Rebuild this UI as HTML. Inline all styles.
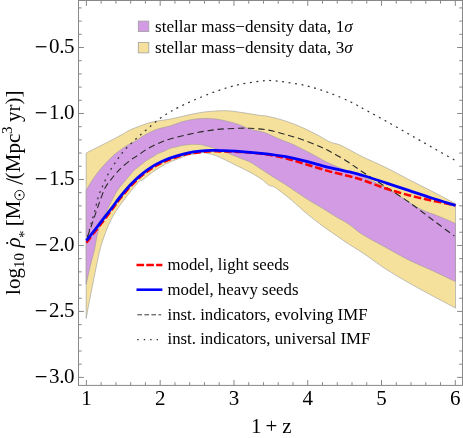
<!DOCTYPE html>
<html><head><meta charset="utf-8"><title>plot</title>
<style>
html,body{margin:0;padding:0;background:#fff;}
body{width:463px;height:438px;overflow:hidden;font-family:"Liberation Serif",serif;}
svg{display:block;}
#w{will-change:transform;width:463px;height:438px;}
</style></head><body>
<div id="w">
<svg width="463" height="438" viewBox="0 0 463 438">
<rect width="463" height="438" fill="#fff"/>
<defs><clipPath id="cp"><rect x="78.5" y="0.5" width="384.0" height="384.9"/></clipPath></defs>
<g clip-path="url(#cp)">
<path d="M86.20 153.00 C88.25 151.97 94.38 148.88 98.50 146.80 C102.62 144.72 106.70 142.70 110.90 140.50 C115.10 138.30 120.62 135.30 123.70 133.60 C126.78 131.90 126.52 131.63 129.40 130.30 C132.28 128.97 137.02 127.02 141.00 125.60 C144.98 124.18 148.47 122.88 153.30 121.80 C158.13 120.72 165.32 119.97 170.00 119.10 C174.68 118.23 177.60 117.45 181.40 116.60 C185.20 115.75 189.00 114.77 192.80 114.00 C196.60 113.23 200.38 112.50 204.20 112.00 C208.02 111.50 211.90 111.22 215.70 111.00 C219.50 110.78 223.20 110.53 227.00 110.70 C230.80 110.87 234.67 111.48 238.50 112.00 C242.33 112.52 246.20 113.20 250.00 113.80 C253.80 114.40 258.42 115.20 261.30 115.60 C264.18 116.00 263.43 115.35 267.30 116.20 C271.17 117.05 278.75 118.85 284.50 120.70 C290.25 122.55 296.03 124.77 301.80 127.30 C307.57 129.83 314.40 133.45 319.10 135.90 C323.80 138.35 326.52 140.48 330.00 142.00 C333.48 143.52 336.45 143.53 340.00 145.00 C343.55 146.47 347.47 148.80 351.30 150.80 C355.13 152.80 357.25 154.22 363.00 157.00 C368.75 159.78 378.18 163.75 385.80 167.50 C393.42 171.25 401.08 175.57 408.70 179.50 C416.32 183.43 423.70 187.07 431.50 191.10 C439.30 195.13 451.50 201.60 455.50 203.70 L455.50 308.00 C451.50 305.88 439.30 299.50 431.50 295.30 C423.70 291.10 416.32 287.17 408.70 282.80 C401.08 278.43 393.42 274.05 385.80 269.10 C378.18 264.15 369.22 257.28 363.00 253.10 C356.78 248.92 352.83 246.85 348.50 244.00 C344.17 241.15 340.80 238.63 337.00 236.00 C333.20 233.37 329.50 230.93 325.70 228.20 C321.90 225.47 318.02 222.60 314.20 219.60 C310.38 216.60 306.60 213.47 302.80 210.20 C299.00 206.93 295.20 203.20 291.40 200.00 C287.60 196.80 282.98 193.23 280.00 191.00 C277.02 188.77 275.08 187.45 273.50 186.60 C271.92 185.75 271.50 186.30 270.50 185.90 C269.50 185.50 269.03 185.35 267.50 184.20 C265.97 183.05 264.22 181.00 261.30 179.00 C258.38 177.00 253.80 174.28 250.00 172.20 C246.20 170.12 242.33 168.40 238.50 166.50 C234.67 164.60 230.80 162.62 227.00 160.80 C223.20 158.98 219.50 156.93 215.70 155.60 C211.90 154.27 206.82 153.20 204.20 152.80 C201.58 152.40 202.62 152.83 200.00 153.20 C197.38 153.57 192.33 154.00 188.50 155.00 C184.67 156.00 180.80 157.70 177.00 159.20 C173.20 160.70 169.50 162.03 165.70 164.00 C161.90 165.97 158.02 168.37 154.20 171.00 C150.38 173.63 145.23 178.13 142.80 179.80 C140.37 181.47 141.50 179.22 139.60 181.00 C137.70 182.78 134.13 187.17 131.40 190.50 C128.67 193.83 125.70 197.67 123.20 201.00 C120.70 204.33 118.45 207.32 116.40 210.50 C114.35 213.68 112.62 216.67 110.90 220.10 C109.18 223.53 107.47 227.67 106.10 231.10 C104.73 234.53 103.73 237.55 102.70 240.70 C101.67 243.85 100.88 246.12 99.90 250.00 C98.92 253.88 97.88 258.83 96.80 264.00 C95.72 269.17 94.60 275.00 93.40 281.00 C92.20 287.00 90.80 293.77 89.60 300.00 C88.40 306.23 86.77 315.33 86.20 318.40 Z" fill="#F5E19B" stroke="#9a9a9a" stroke-width="0.6" stroke-linejoin="round"/>
<path d="M86.20 190.30 C87.12 188.77 89.65 184.23 91.70 181.10 C93.75 177.97 96.22 174.42 98.50 171.50 C100.78 168.58 103.12 166.10 105.40 163.60 C107.68 161.10 109.92 158.60 112.20 156.50 C114.48 154.40 116.82 152.72 119.10 151.00 C121.38 149.28 123.62 147.63 125.90 146.20 C128.18 144.77 130.78 143.53 132.80 142.40 C134.82 141.27 135.72 140.80 138.00 139.40 C140.28 138.00 143.17 135.75 146.50 134.00 C149.83 132.25 154.08 130.23 158.00 128.90 C161.92 127.57 166.10 127.15 170.00 126.00 C173.90 124.85 177.60 123.10 181.40 122.00 C185.20 120.90 189.00 120.00 192.80 119.40 C196.60 118.80 200.38 118.47 204.20 118.40 C208.02 118.33 211.90 118.53 215.70 119.00 C219.50 119.47 223.20 120.30 227.00 121.20 C230.80 122.10 234.67 123.07 238.50 124.40 C242.33 125.73 246.65 128.08 250.00 129.20 C253.35 130.32 255.72 130.37 258.60 131.10 C261.48 131.83 264.42 132.52 267.30 133.60 C270.18 134.68 273.03 136.35 275.90 137.60 C278.77 138.85 281.62 139.95 284.50 141.10 C287.38 142.25 290.32 143.20 293.20 144.50 C296.08 145.80 298.93 147.45 301.80 148.90 C304.67 150.35 307.52 151.68 310.40 153.20 C313.28 154.72 316.50 156.57 319.10 158.00 C321.70 159.43 323.13 160.40 326.00 161.80 C328.87 163.20 332.08 164.62 336.30 166.40 C340.52 168.18 346.85 170.73 351.30 172.50 C355.75 174.27 359.15 175.42 363.00 177.00 C366.85 178.58 370.60 180.22 374.40 182.00 C378.20 183.78 382.00 185.62 385.80 187.70 C389.60 189.78 393.38 192.12 397.20 194.50 C401.02 196.88 404.90 199.60 408.70 202.00 C412.50 204.40 416.20 206.98 420.00 208.90 C423.80 210.82 427.67 211.98 431.50 213.50 C435.33 215.02 439.00 216.33 443.00 218.00 C447.00 219.67 453.42 222.58 455.50 223.50 L455.50 281.60 C451.50 279.70 439.30 273.80 431.50 270.20 C423.70 266.60 416.32 263.80 408.70 260.00 C401.08 256.20 393.42 251.60 385.80 247.40 C378.18 243.20 369.22 238.70 363.00 234.80 C356.78 230.90 352.83 226.92 348.50 224.00 C344.17 221.08 340.08 219.13 337.00 217.30 C333.92 215.47 332.03 214.27 330.00 213.00 C327.97 211.73 326.97 211.03 324.80 209.70 C322.63 208.37 319.28 206.35 317.00 205.00 C314.72 203.65 313.13 202.83 311.10 201.60 C309.07 200.37 306.98 199.03 304.80 197.60 C302.62 196.17 300.28 194.57 298.00 193.00 C295.72 191.43 293.40 189.73 291.10 188.20 C288.80 186.67 286.48 185.23 284.20 183.80 C281.92 182.37 279.68 181.03 277.40 179.60 C275.12 178.17 272.78 176.67 270.50 175.20 C268.22 173.73 265.98 172.28 263.70 170.80 C261.42 169.32 259.08 167.77 256.80 166.30 C254.52 164.83 253.05 163.48 250.00 162.00 C246.95 160.52 242.33 158.93 238.50 157.40 C234.67 155.87 230.08 154.03 227.00 152.80 C223.92 151.57 221.88 150.68 220.00 150.00 C218.12 149.32 217.15 149.17 215.70 148.70 C214.25 148.23 213.22 147.73 211.30 147.20 C209.38 146.67 206.08 145.93 204.20 145.50 C202.32 145.07 201.90 144.80 200.00 144.60 C198.10 144.40 194.72 144.30 192.80 144.30 C190.88 144.30 190.40 144.38 188.50 144.60 C186.60 144.82 183.32 145.23 181.40 145.60 C179.48 145.97 178.90 146.35 177.00 146.80 C175.10 147.25 171.88 147.68 170.00 148.30 C168.12 148.92 167.70 149.62 165.70 150.50 C163.70 151.38 159.92 152.68 158.00 153.60 C156.08 154.52 156.12 154.85 154.20 156.00 C152.28 157.15 148.40 159.25 146.50 160.50 C144.60 161.75 144.72 161.98 142.80 163.50 C140.88 165.02 136.90 167.93 135.00 169.60 C133.10 171.27 133.28 171.35 131.40 173.50 C129.52 175.65 125.98 179.75 123.70 182.50 C121.42 185.25 119.72 186.92 117.70 190.00 C115.68 193.08 113.65 197.12 111.60 201.00 C109.55 204.88 107.23 209.43 105.40 213.30 C103.57 217.17 101.97 220.55 100.60 224.20 C99.23 227.85 98.23 230.90 97.20 235.20 C96.17 239.50 95.52 245.03 94.40 250.00 C93.28 254.97 91.87 259.28 90.50 265.00 C89.13 270.72 86.92 281.08 86.20 284.30 Z" fill="#D39BE3" stroke="#9a9a9a" stroke-width="0.6" stroke-linejoin="round"/>
<path d="M87.50 237.00 C88.08 234.83 89.73 228.55 91.00 224.00 C92.27 219.45 93.85 214.33 95.10 209.70 C96.35 205.07 97.13 200.40 98.50 196.20 C99.87 192.00 101.58 188.38 103.30 184.50 C105.02 180.62 106.73 176.65 108.80 172.90 C110.87 169.15 113.30 165.55 115.70 162.00 C118.10 158.45 120.35 154.95 123.20 151.60 C126.05 148.25 129.68 144.90 132.80 141.90 C135.92 138.90 138.87 136.28 141.90 133.60 C144.93 130.92 147.95 128.35 151.00 125.80 C154.05 123.25 157.15 120.55 160.20 118.30 C163.25 116.05 166.33 114.08 169.30 112.30 C172.27 110.52 174.08 109.55 178.00 107.60 C181.92 105.65 186.52 103.28 192.80 100.60 C199.08 97.92 208.08 94.15 215.70 91.50 C223.32 88.85 230.90 86.45 238.50 84.70 C246.10 82.95 256.05 81.70 261.30 81.00 C266.55 80.30 266.42 80.38 270.00 80.50 C273.58 80.62 276.85 80.85 282.80 81.70 C288.75 82.55 298.08 83.78 305.70 85.60 C313.32 87.42 320.90 89.83 328.50 92.60 C336.10 95.37 344.98 99.23 351.30 102.20 C357.62 105.17 360.65 107.27 366.40 110.40 C372.15 113.53 378.75 117.07 385.80 121.00 C392.85 124.93 401.08 129.67 408.70 134.00 C416.32 138.33 423.78 142.62 431.50 147.00 C439.22 151.38 451.08 158.08 455.00 160.30" fill="none" stroke="#333" stroke-width="1.25" stroke-dasharray="1.9 4.6"/>
<path d="M87.40 237.00 C88.20 234.73 90.63 227.90 92.20 223.40 C93.77 218.90 95.30 214.32 96.80 210.00 C98.30 205.68 99.77 201.28 101.20 197.50 C102.63 193.72 103.78 190.27 105.40 187.30 C107.02 184.33 109.07 182.10 110.90 179.70 C112.73 177.30 114.35 175.18 116.40 172.90 C118.45 170.62 120.47 168.40 123.20 166.00 C125.93 163.60 130.33 160.28 132.80 158.50 C135.27 156.72 135.72 156.82 138.00 155.30 C140.28 153.78 143.17 151.35 146.50 149.40 C149.83 147.45 154.08 145.33 158.00 143.60 C161.92 141.87 164.20 140.68 170.00 139.00 C175.80 137.32 185.18 135.07 192.80 133.50 C200.42 131.93 208.08 130.47 215.70 129.60 C223.32 128.73 232.78 128.52 238.50 128.30 C244.22 128.08 245.20 128.03 250.00 128.30 C254.80 128.57 261.55 128.92 267.30 129.90 C273.05 130.88 278.75 132.62 284.50 134.20 C290.25 135.78 296.03 137.38 301.80 139.40 C307.57 141.42 314.40 144.28 319.10 146.30 C323.80 148.32 325.38 149.02 330.00 151.50 C334.62 153.98 341.30 157.75 346.80 161.20 C352.30 164.65 356.50 167.90 363.00 172.20 C369.50 176.50 378.18 182.03 385.80 187.00 C393.42 191.97 401.08 196.67 408.70 202.00 C416.32 207.33 423.90 213.33 431.50 219.00 C439.10 224.67 450.50 233.17 454.30 236.00" fill="none" stroke="#2a2a2a" stroke-width="1.1" stroke-dasharray="6.4 3.8"/>
<path d="M86.40 242.70 C88.80 239.62 96.50 229.77 100.80 224.20 C105.10 218.63 109.00 213.53 112.20 209.30 C115.40 205.07 116.80 202.78 120.00 198.80 C123.20 194.82 127.60 189.38 131.40 185.40 C135.20 181.42 139.00 178.00 142.80 174.90 C146.60 171.80 150.38 169.12 154.20 166.80 C158.02 164.48 161.90 162.63 165.70 161.00 C169.50 159.37 173.20 158.18 177.00 157.00 C180.80 155.82 184.67 154.70 188.50 153.90 C192.33 153.10 196.20 152.63 200.00 152.20 C203.80 151.77 207.97 151.43 211.30 151.30 C214.63 151.17 215.47 151.30 220.00 151.40 C224.53 151.50 231.62 151.50 238.50 151.90 C245.38 152.30 253.63 152.78 261.30 153.80 C268.97 154.82 277.10 156.27 284.50 158.00 C291.90 159.73 298.37 162.02 305.70 164.20 C313.03 166.38 320.90 169.00 328.50 171.10 C336.10 173.20 345.17 175.15 351.30 176.80 C357.43 178.45 359.55 179.05 365.30 181.00 C371.05 182.95 378.57 186.13 385.80 188.50 C393.03 190.87 401.08 193.20 408.70 195.20 C416.32 197.20 423.70 198.82 431.50 200.50 C439.30 202.18 451.50 204.50 455.50 205.30" fill="none" stroke="#f00" stroke-width="2.5" stroke-dasharray="7.5 2.8"/>
<path d="M86.40 240.70 C88.80 237.62 96.50 227.75 100.80 222.20 C105.10 216.65 109.00 211.60 112.20 207.40 C115.40 203.20 116.80 200.93 120.00 197.00 C123.20 193.07 127.60 187.73 131.40 183.80 C135.20 179.87 139.00 176.47 142.80 173.40 C146.60 170.33 150.38 167.68 154.20 165.40 C158.02 163.12 161.90 161.30 165.70 159.70 C169.50 158.10 173.20 156.95 177.00 155.80 C180.80 154.65 184.67 153.57 188.50 152.80 C192.33 152.03 196.20 151.60 200.00 151.20 C203.80 150.80 207.97 150.50 211.30 150.40 C214.63 150.30 215.47 150.45 220.00 150.60 C224.53 150.75 231.62 150.85 238.50 151.30 C245.38 151.75 253.63 152.45 261.30 153.30 C268.97 154.15 277.10 155.08 284.50 156.40 C291.90 157.72 298.37 159.37 305.70 161.20 C313.03 163.03 320.90 165.55 328.50 167.40 C336.10 169.25 345.55 170.95 351.30 172.30 C357.05 173.65 357.25 173.75 363.00 175.50 C368.75 177.25 378.18 180.32 385.80 182.80 C393.42 185.28 401.08 187.87 408.70 190.40 C416.32 192.93 423.70 195.52 431.50 198.00 C439.30 200.48 451.50 204.08 455.50 205.30" fill="none" stroke="#00f" stroke-width="2.8"/>
</g>
<g stroke="#888888" stroke-width="1" fill="none" shape-rendering="auto">
<rect x="78.5" y="0.5" width="384.0" height="384.9"/>
<path d="M86.40 385.40 v-5.40 M86.40 0.50 v5.40 M101.16 385.40 v-3.20 M101.16 0.50 v3.20 M115.91 385.40 v-3.20 M115.91 0.50 v3.20 M130.67 385.40 v-3.20 M130.67 0.50 v3.20 M145.42 385.40 v-3.20 M145.42 0.50 v3.20 M160.18 385.40 v-5.40 M160.18 0.50 v5.40 M174.94 385.40 v-3.20 M174.94 0.50 v3.20 M189.69 385.40 v-3.20 M189.69 0.50 v3.20 M204.45 385.40 v-3.20 M204.45 0.50 v3.20 M219.20 385.40 v-3.20 M219.20 0.50 v3.20 M233.96 385.40 v-5.40 M233.96 0.50 v5.40 M248.72 385.40 v-3.20 M248.72 0.50 v3.20 M263.47 385.40 v-3.20 M263.47 0.50 v3.20 M278.23 385.40 v-3.20 M278.23 0.50 v3.20 M292.98 385.40 v-3.20 M292.98 0.50 v3.20 M307.74 385.40 v-5.40 M307.74 0.50 v5.40 M322.50 385.40 v-3.20 M322.50 0.50 v3.20 M337.25 385.40 v-3.20 M337.25 0.50 v3.20 M352.01 385.40 v-3.20 M352.01 0.50 v3.20 M366.76 385.40 v-3.20 M366.76 0.50 v3.20 M381.52 385.40 v-5.40 M381.52 0.50 v5.40 M396.28 385.40 v-3.20 M396.28 0.50 v3.20 M411.03 385.40 v-3.20 M411.03 0.50 v3.20 M425.79 385.40 v-3.20 M425.79 0.50 v3.20 M440.54 385.40 v-3.20 M440.54 0.50 v3.20 M455.30 385.40 v-5.40 M455.30 0.50 v5.40 M78.50 7.91 h3.20 M462.50 7.91 h-3.20 M78.50 21.11 h3.20 M462.50 21.11 h-3.20 M78.50 34.30 h3.20 M462.50 34.30 h-3.20 M78.50 47.50 h5.40 M462.50 47.50 h-5.40 M78.50 60.70 h3.20 M462.50 60.70 h-3.20 M78.50 73.89 h3.20 M462.50 73.89 h-3.20 M78.50 87.09 h3.20 M462.50 87.09 h-3.20 M78.50 100.28 h3.20 M462.50 100.28 h-3.20 M78.50 113.48 h5.40 M462.50 113.48 h-5.40 M78.50 126.68 h3.20 M462.50 126.68 h-3.20 M78.50 139.87 h3.20 M462.50 139.87 h-3.20 M78.50 153.07 h3.20 M462.50 153.07 h-3.20 M78.50 166.26 h3.20 M462.50 166.26 h-3.20 M78.50 179.46 h5.40 M462.50 179.46 h-5.40 M78.50 192.66 h3.20 M462.50 192.66 h-3.20 M78.50 205.85 h3.20 M462.50 205.85 h-3.20 M78.50 219.05 h3.20 M462.50 219.05 h-3.20 M78.50 232.24 h3.20 M462.50 232.24 h-3.20 M78.50 245.44 h5.40 M462.50 245.44 h-5.40 M78.50 258.64 h3.20 M462.50 258.64 h-3.20 M78.50 271.83 h3.20 M462.50 271.83 h-3.20 M78.50 285.03 h3.20 M462.50 285.03 h-3.20 M78.50 298.22 h3.20 M462.50 298.22 h-3.20 M78.50 311.42 h5.40 M462.50 311.42 h-5.40 M78.50 324.62 h3.20 M462.50 324.62 h-3.20 M78.50 337.81 h3.20 M462.50 337.81 h-3.20 M78.50 351.01 h3.20 M462.50 351.01 h-3.20 M78.50 364.20 h3.20 M462.50 364.20 h-3.20 M78.50 377.40 h5.40 M462.50 377.40 h-5.40"/>
</g>

<rect x="138.3" y="21.1" width="10.5" height="10.5" fill="#D39BE3" stroke="#a0a0a0" stroke-width="0.8"/>
<rect x="138.3" y="42.4" width="10.5" height="10.5" fill="#F5E19B" stroke="#a0a0a0" stroke-width="0.8"/>
<path d="M136.5 265 H162.4" stroke="#f00" stroke-width="2.5" stroke-dasharray="7.6 2.2" fill="none"/>
<path d="M136.5 289.7 H162.4" stroke="#00f" stroke-width="2.6" fill="none"/>
<path d="M137.4 314.8 H161.2" stroke="#383838" stroke-width="1" stroke-dasharray="4.6 2.4" fill="none"/>
<path d="M137.3 339.7 H158" stroke="#2a2a2a" stroke-width="1.2" stroke-dasharray="1.4 5.05" fill="none"/>

<g font-family="'Liberation Serif', serif" fill="#000" style="filter:grayscale(1)">
<text x="86.40" y="404.60" font-size="21" text-anchor="middle">1</text>
<text x="160.18" y="404.60" font-size="21" text-anchor="middle">2</text>
<text x="233.96" y="404.60" font-size="21" text-anchor="middle">3</text>
<text x="307.74" y="404.60" font-size="21" text-anchor="middle">4</text>
<text x="381.52" y="404.60" font-size="21" text-anchor="middle">5</text>
<text x="455.30" y="404.60" font-size="21" text-anchor="middle">6</text>
<text x="74.30" y="53.30" font-size="21" text-anchor="end" letter-spacing="-0.3">0.5</text>
<path d="M35.8 46.75 H46.4" stroke="#000" stroke-width="1.25" fill="none"/>
<text x="74.30" y="119.28" font-size="21" text-anchor="end" letter-spacing="-0.3">1.0</text>
<path d="M35.8 112.73 H46.4" stroke="#000" stroke-width="1.25" fill="none"/>
<text x="74.30" y="185.26" font-size="21" text-anchor="end" letter-spacing="-0.3">1.5</text>
<path d="M35.8 178.71 H46.4" stroke="#000" stroke-width="1.25" fill="none"/>
<text x="74.30" y="251.24" font-size="21" text-anchor="end" letter-spacing="-0.3">2.0</text>
<path d="M35.8 244.69 H46.4" stroke="#000" stroke-width="1.25" fill="none"/>
<text x="74.30" y="317.22" font-size="21" text-anchor="end" letter-spacing="-0.3">2.5</text>
<path d="M35.8 310.67 H46.4" stroke="#000" stroke-width="1.25" fill="none"/>
<text x="74.30" y="383.20" font-size="21" text-anchor="end" letter-spacing="-0.3">3.0</text>
<path d="M35.8 376.65 H46.4" stroke="#000" stroke-width="1.25" fill="none"/>
<text y="432.50" font-size="21"><tspan x="251">1</tspan><tspan x="265.5">+</tspan><tspan x="282.3">z</tspan></text>
<g transform="translate(20.3,294.9) rotate(-90)">
<text x="0" y="0" font-size="21">log</text>
<text x="27" y="3.7" font-size="15">10</text>
<text x="47.5" y="0" font-size="21" font-style="italic">ρ</text>
<circle cx="51.9" cy="-13.1" r="1.1"/>
<text x="57" y="9" font-size="15">*</text>
<text x="68.6" y="0" font-size="21">[M</text>
<circle cx="99.8" cy="-0.8" r="4.7" fill="none" stroke="#000" stroke-width="0.9"/><circle cx="99.8" cy="-0.8" r="1.1"/>
<path d="M110.7 2.5 L116.4 -14.1" stroke="#000" stroke-width="1.1" fill="none"/>
<text x="115.7" y="0" font-size="21">(Mpc</text>
<text x="160.8" y="-8.6" font-size="15">3</text>
<text x="173" y="0" font-size="21">yr)]</text>
</g>

<text x="155.1" y="31.7" font-size="17.1">stellar mass−density data, 1<tspan font-style="italic">σ</tspan></text>
<text x="155.1" y="52.6" font-size="17.1">stellar mass−density data, 3<tspan font-style="italic">σ</tspan></text>
<text x="167.5" y="270.2" font-size="16.8">model, light seeds</text>
<text x="167.5" y="294.8" font-size="16.8">model, heavy seeds</text>
<text x="167.5" y="319.5" font-size="16.8">inst. indicators, evolving IMF</text>
<text x="167.5" y="344.3" font-size="16.8">inst. indicators, universal IMF</text>

</g>
</svg>
</div>
</body></html>
